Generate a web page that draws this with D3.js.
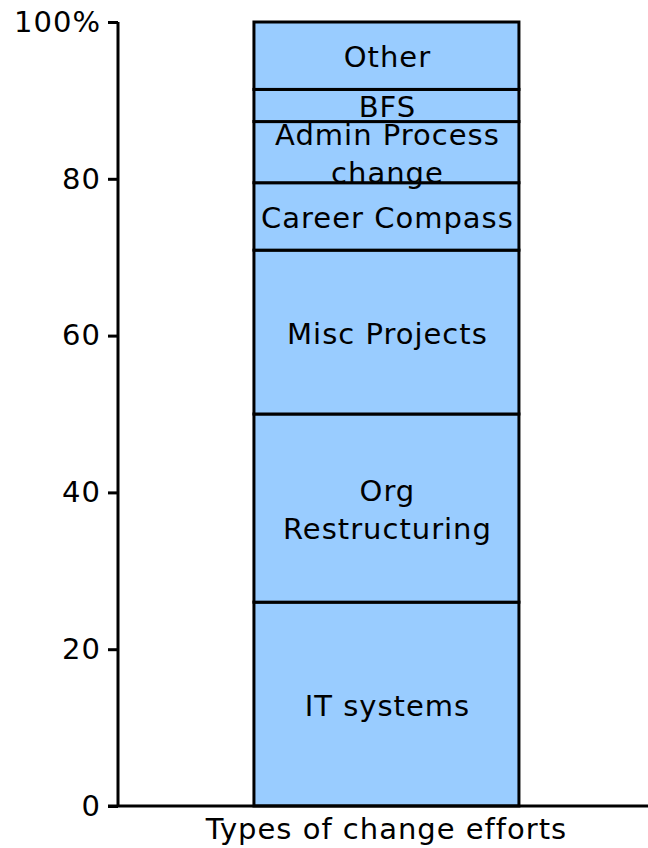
<!DOCTYPE html>
<html>
<head>
<meta charset="utf-8">
<script src="https://cdn.jsdelivr.net/npm/d3@7"></script>
<style>
  body { margin: 0; background: #fff; }
  svg text { font-family: "DejaVu Sans", Verdana, sans-serif; fill: #000; letter-spacing: 1px; }
</style>
</head>
<body>
<div id="chart"></div>
<script>
// segment names, bottom to top
var categories = ['IT systems', 'Org Restructuring', 'Misc Projects', 'Career Compass',
                  'Admin Process change', 'BFS', 'Other']
// share of each segment, percent
var values = [26, 24, 20.9, 8.6, 7.8, 4.1, 8.6]
// label lines per segment
var labelLines = [['IT systems'], ['Org', 'Restructuring'], ['Misc Projects'], ['Career Compass'],
                  ['Admin Process', 'change'], ['BFS'], ['Other']]
var yTicks = [0, 20, 40, 60, 80, 100]
var xLabel = 'Types of change efforts'

var width = 648, height = 848
var margin = { top: 22, right: 0, bottom: 43, left: 118 }
var fontSize = '29px'

var svg = d3.select('#chart').append('svg')
    .attr('width', width)
    .attr('height', height)

// stack the values
var stacked = []
var acc = 0
values.forEach(function (v, i) {
    stacked.push({ name: categories[i], y0: acc, y1: acc + v, lines: labelLines[i] })
    acc += v
})

var y = d3.scaleLinear()
    .domain([0, 100])
    .range([height - margin.bottom + 1, margin.top])

var x = d3.scaleBand()
    .domain([xLabel])
    .range([margin.left, width])
    .paddingInner(0.5)
    .paddingOuter(0.2462)
    .align(0.513)

// bar segments
var seg = svg.append('g').selectAll('g')
    .data(stacked)
    .enter().append('g')

seg.append('rect')
    .attr('x', x(xLabel))
    .attr('width', x.bandwidth())
    .attr('y', function (d) { return y(d.y1) })
    .attr('height', function (d) { return y(d.y0) - y(d.y1) })
    .style('fill', '#99ccff')
    .style('stroke', '#000')
    .style('stroke-width', 3)

seg.each(function (d) {
    var cy = (y(d.y0) + y(d.y1)) / 2
    var lh = 38
    var start = cy - (d.lines.length - 1) * lh / 2
    d3.select(this).selectAll('text')
        .data(d.lines)
        .enter().append('text')
        .attr('x', x(xLabel) + x.bandwidth() / 2 + 1)
        .attr('y', function (t, i) { return start + i * lh + 1 })
        .attr('dy', '0.36em')
        .attr('text-anchor', 'middle')
        .style('font-size', fontSize)
        .text(function (t) { return t })
})

// y axis
var yAxis = d3.axisLeft(y)
    .tickValues(yTicks)
    .tickSize(10)
    .tickPadding(7)
    .tickFormat(function (d) { return d === 100 ? '100%' : d })

var gy = svg.append('g')
    .attr('transform', 'translate(' + margin.left + ',0)')
    .call(yAxis)
gy.select('.domain').attr('d', 'M0,' + y(100) + 'V' + y(0))
gy.selectAll('.domain, .tick line').style('stroke', '#000').style('stroke-width', 3)
gy.selectAll('.tick text').style('font-size', fontSize).style('font-family', '"DejaVu Sans", Verdana, sans-serif')

// x axis
var xAxis = d3.axisBottom(x).tickSize(0).tickPadding(12)
var gx = svg.append('g')
    .attr('transform', 'translate(0,' + y(0) + ')')
    .call(xAxis)
gx.select('.domain').attr('d', 'M' + (margin.left - 10) + ',0H' + width)
    .style('stroke', '#000').style('stroke-width', 3)
gx.selectAll('.tick text').style('font-size', fontSize).style('font-family', '"DejaVu Sans", Verdana, sans-serif')
</script>
</body>
</html>
